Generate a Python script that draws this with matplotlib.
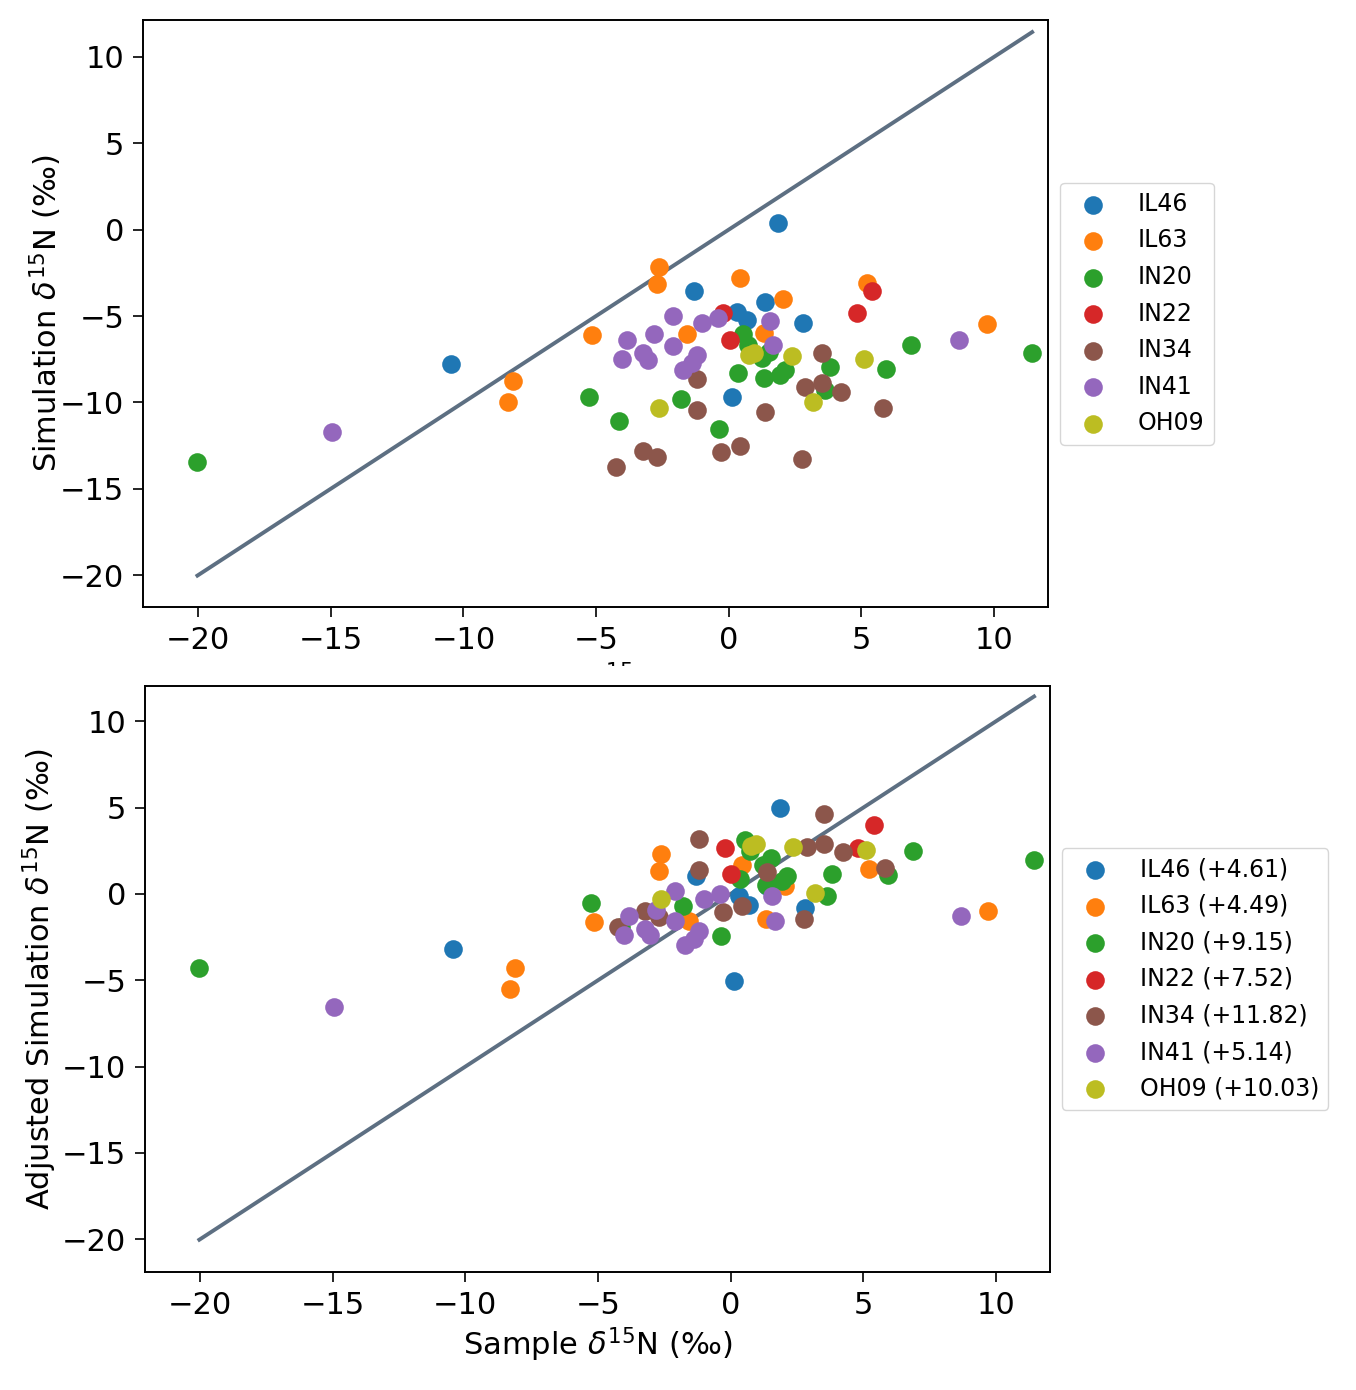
import matplotlib
matplotlib.use("Agg")
import matplotlib.pyplot as plt
from matplotlib.transforms import Bbox, TransformedBbox

groups = ["IL46", "IL63", "IN20", "IN22", "IN34", "IN41", "OH09"]
offsets = [4.61, 4.49, 9.15, 7.52, 11.82, 5.14, 10.03]
colors = ["#1f77b4", "#ff7f0e", "#2ca02c", "#d62728", "#8c564b", "#9467bd", "#bcbd22"]

sample_IL46 = [-10.47, -1.30, 0.14, 0.30, 0.70, 1.36, 1.87, 2.79]
sim_IL46 = [-7.79, -3.55, -9.67, -4.75, -5.23, -4.17, 0.37, -5.42]

sample_IL63 = [-8.33, -8.12, -5.16, -2.71, -2.63, -1.58, 0.44, 1.33, 2.06, 5.20, 9.72]
sim_IL63 = [-9.99, -8.76, -6.10, -3.16, -2.18, -6.04, -2.82, -5.96, -4.03, -3.07, -5.46]

sample_IN20 = [-20.03, -5.25, -4.15, -1.81, -0.38, 0.34, 0.53, 0.74, 1.24, 1.53,
               1.33, 1.93, 2.12, 3.63, 3.82, 5.93, 6.86, 11.44]
sim_IN20 = [-13.43, -9.67, -11.08, -9.82, -11.56, -8.28, -6.04, -6.68, -7.45, -7.06,
            -8.61, -8.41, -8.12, -9.28, -7.97, -8.08, -6.68, -7.16]

sample_IN22 = [-0.22, 0.03, 4.82, 5.41]
sim_IN22 = [-4.84, -6.39, -4.84, -3.55]

sample_IN34 = [-4.25, -3.24, -2.71, -1.18, -1.18, -0.29, 0.44, 1.37, 2.77, 2.88,
               3.51, 3.51, 4.22, 5.83]
sim_IN34 = [-13.76, -12.80, -13.14, -8.65, -10.44, -12.85, -12.51, -10.54, -13.28, -9.09,
            -7.16, -8.90, -9.38, -10.31]

sample_IN41 = [-14.94, -4.03, -3.84, -3.24, -3.03, -2.82, -2.09, -2.09, -1.71, -1.39,
               -1.21, -1.02, -0.39, 1.56, 1.66, 8.69]
sim_IN41 = [-11.70, -7.51, -6.39, -7.16, -7.54, -6.06, -4.98, -6.72, -8.12, -7.74,
            -7.26, -5.42, -5.13, -5.27, -6.68, -6.39]

sample_OH09 = [-2.62, 0.78, 0.95, 2.37, 3.19, 5.11]
sim_OH09 = [-10.34, -7.28, -7.15, -7.31, -9.96, -7.51]

samples = [sample_IL46, sample_IL63, sample_IN20, sample_IN22, sample_IN34, sample_IN41, sample_OH09]
sims = [sim_IL46, sim_IL63, sim_IN20, sim_IN22, sim_IN34, sim_IN41, sim_OH09]

all_x = [v for s in samples for v in s]
xmin, xmax = min(all_x), max(all_x)

fig = plt.figure(figsize=(13.56, 13.90), dpi=100)
ax1 = fig.add_axes([0.1055, 0.5633, 0.6674, 0.4223])
ax2 = fig.add_axes([0.1069, 0.0849, 0.6674, 0.4216])

line_color = "#5d6f82"
msize = 180

for ax, adjusted in [(ax1, False), (ax2, True)]:
    ax.plot([xmin, xmax], [xmin, xmax], color=line_color, lw=2.8, zorder=1)
    for g, off, c, xs, ys in zip(groups, offsets, colors, samples, sims):
        if adjusted:
            yv = [y + off for y in ys]
            lab = f"{g} (+{off:.2f})"
        else:
            yv = ys
            lab = g
        ax.scatter(xs, yv, s=msize, color=c, label=lab, zorder=2, linewidths=0)
    ax.set_xlim(-22.08, 12.04)
    ax.set_xticks([-20, -15, -10, -5, 0, 5, 10])
    ax.set_yticks([-20, -15, -10, -5, 0, 5, 10])
    ax.tick_params(labelsize=22, length=7, width=1.2, pad=6.5)
    for sp in ax.spines.values():
        sp.set_linewidth(1.4)
    ax.set_xlabel("Sample $\\delta^{15}$N (‰)", fontsize=22)
    ax.legend(loc="center left", bbox_to_anchor=(1.0, 0.5), fontsize=17,
              scatterpoints=1, handletextpad=0.9, labelspacing=0.53,
              borderaxespad=0.5)

ax1.set_ylim(-21.85, 12.14)
ax2.set_ylim(-21.9, 12.05)
ax1.set_ylabel("Simulation $\\delta^{15}$N (‰)", fontsize=22)
ax2.set_ylabel("Adjusted Simulation $\\delta^{15}$N (‰)", fontsize=22)
ax1.yaxis.set_label_coords(-0.0873, 0.5)
ax2.yaxis.set_label_coords(-0.095, 0.5)

# the upper panel's x label is cut off by the lower panel in the reference
lbl = ax1.xaxis.label
lbl.set_clip_box(TransformedBbox(Bbox([[0, 0.5209], [1, 1]]), fig.transFigure))
lbl.set_clip_on(True)

fig.savefig("out.png", dpi=100)
